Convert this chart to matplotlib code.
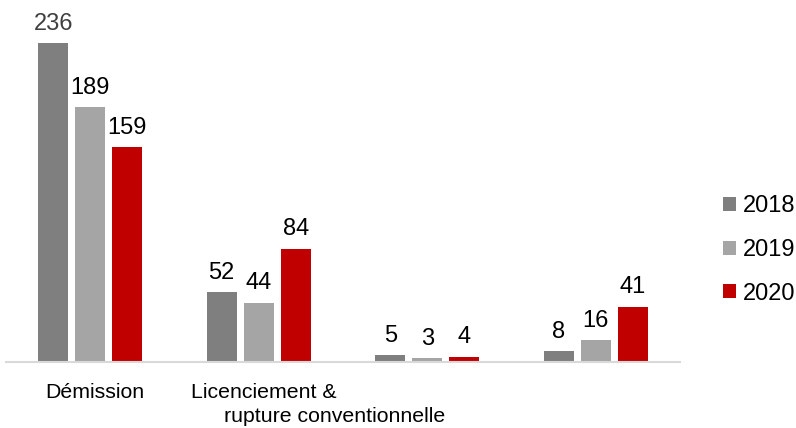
import matplotlib
matplotlib.use("Agg")
import matplotlib.pyplot as plt
import matplotlib.transforms as mtransforms
import numpy as np

plt.rcParams['font.family'] = ['Liberation Sans', 'DejaVu Sans']

categories = ["Démission", "Licenciement &", "", ""]
second_line = "rupture conventionnelle"
series_names = ["2018", "2019", "2020"]
values_2018 = [236, 52, 5, 8]
values_2019 = [189, 44, 3, 16]
values_2020 = [159, 84, 4, 41]
colors = ["#7f7f7f", "#a5a5a5", "#c00000"]

W, H = 796, 428
fig = plt.figure(figsize=(W / 100, H / 100), dpi=100)
ax = fig.add_axes([6 / W, (H - 362) / H, 674 / W, 362 / H])

x = np.arange(len(categories))
width = 0.178
step = 0.22
series = [values_2018, values_2019, values_2020]
for i, (vals, name, c) in enumerate(zip(series, series_names, colors)):
    pos = x + (i - 1) * step
    ax.bar(pos, vals, width=width, color=c, label=name, zorder=2)
    for p, v in zip(pos, vals):
        col = "#404040" if v == 236 else "black"
        ax.annotate(str(v), (p, v), xytext=(0, 9.5), textcoords="offset points",
                    ha="center", va="baseline", fontsize=17, color=col)

ax.set_xlim(-0.5, 3.5)
ax.set_ylim(0, 268)
for s in ["top", "right", "left"]:
    ax.spines[s].set_visible(False)
ax.spines["bottom"].set_color("#d9d9d9")
ax.spines["bottom"].set_linewidth(1.5)
ax.set_yticks([])
ax.set_xticks(x)
ax.set_xticklabels(categories, fontsize=15.3)
ax.tick_params(axis="x", length=0, pad=15)
shift = mtransforms.ScaledTranslation(5 / 100, 0, fig.dpi_scale_trans)
for lbl in ax.get_xticklabels():
    lbl.set_transform(lbl.get_transform() + shift)
ax.annotate(second_line, (1.45, 0), xytext=(0, -39.5), textcoords="offset points",
            ha="center", va="center", fontsize=15.3, annotation_clip=False)

handles, labels = ax.get_legend_handles_labels()
fig.legend(handles, labels, loc="center left", bbox_to_anchor=(723 / W, 1 - 250 / H),
           frameon=False, fontsize=17, handlelength=0.55, handleheight=0.55,
           handletextpad=0.3, labelspacing=0.92, borderpad=0, borderaxespad=0)

fig.savefig("out.png", dpi=100)
